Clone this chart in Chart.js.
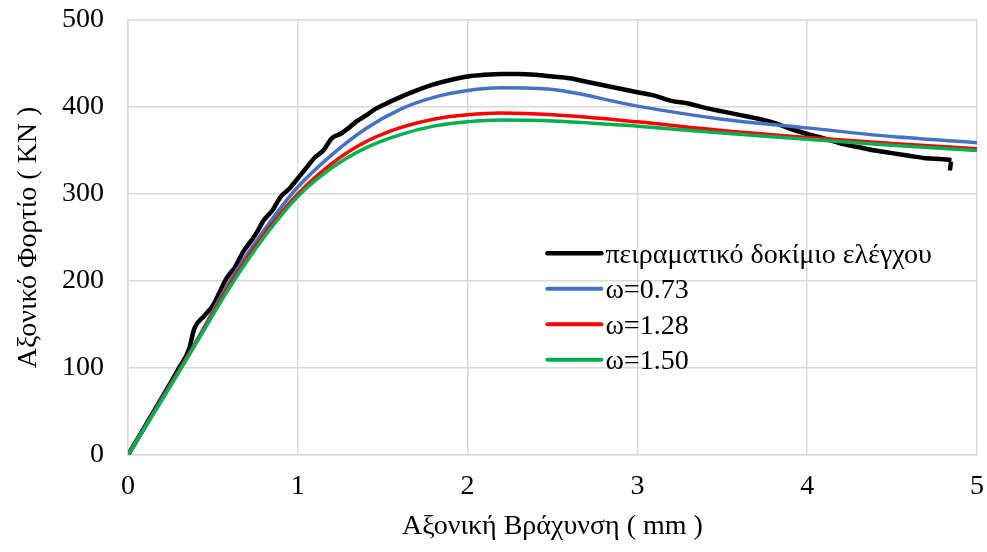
<!DOCTYPE html>
<html>
<head>
<meta charset="utf-8">
<script src="https://cdn.jsdelivr.net/npm/chart.js@4/dist/chart.umd.min.js"></script>
<style>
  html, body { margin: 0; padding: 0; background: #fff; }
  #wrap { width: 987px; height: 552px; }
</style>
</head>
<body>
<div id="wrap"><canvas id="chart"></canvas></div>
<script>
// experimental specimen (black)
const expX = [0, 0.1, 0.2, 0.3, 0.36, 0.39, 0.45, 0.5, 0.58, 0.63, 0.68, 0.75, 0.8, 0.85, 0.9, 0.95,
  1.0, 1.05, 1.1, 1.15, 1.2, 1.25, 1.3, 1.35, 1.4, 1.45, 1.5, 1.6, 1.7, 1.8, 1.9, 2.0, 2.1, 2.2,
  2.3, 2.4, 2.5, 2.6, 2.7, 2.8, 2.9, 3.0, 3.1, 3.2, 3.3, 3.4, 3.5, 3.6, 3.7, 3.8, 3.9, 4.0, 4.1,
  4.2, 4.3, 4.4, 4.5, 4.6, 4.7, 4.8, 4.85, 4.84];
const expY = [0, 33, 66, 100, 122, 145, 160, 172, 203, 216, 234, 253, 270, 281, 297, 306,
  318, 330, 342, 350, 364, 369, 376, 384, 390, 397, 402, 411, 419, 426, 431, 435, 437, 438,
  438, 437, 435, 433, 429, 425, 421, 417, 413, 407, 404, 399, 395, 391, 387, 382, 375, 369, 364,
  358, 354, 350, 347, 344, 341, 340, 339, 327];

const modelX = [0, 0.2, 0.4, 0.6, 0.8, 1.0, 1.2, 1.4, 1.6, 1.8, 2.0, 2.2, 2.5, 3.0, 3.5, 4.0, 4.5, 5.0];
const w073Y = [0, 65, 130, 200, 258, 308, 345, 375, 397, 411, 419, 422, 420, 401, 386, 376, 366, 359];
const w128Y = [0, 64, 129, 196, 253, 300, 335, 360, 376, 386, 391, 393, 391, 383, 373, 365, 358, 352];
const w150Y = [0, 63, 128, 193, 250, 297, 330, 353, 368, 378, 383, 385, 384, 378, 370, 363, 356, 350];

const seriesLabels = ['πειραματικό δοκίμιο ελέγχου', 'ω=0.73', 'ω=1.28', 'ω=1.50'];
const seriesColors = ['#000000', '#4472C4', '#FF0000', '#00B050'];

const FONT = 'Liberation Serif';
const FSIZE = 28;
const pts = (xs, ys) => xs.map((x, i) => ({ x, y: ys[i] }));

// legend drawn inside the plot area
const innerLegend = {
  id: 'innerLegend',
  afterDraw(chart) {
    const { ctx, scales } = chart;
    const left = scales.x.getPixelForValue(2.47);
    const top = scales.y.getPixelForValue(232);
    const rowH = 35.5;
    ctx.save();
    ctx.font = FSIZE + 'px "' + FONT + '"';
    ctx.textBaseline = 'middle';
    ctx.fillStyle = '#000';
    chart.data.datasets.forEach((ds, i) => {
      const y = top + i * rowH;
      ctx.strokeStyle = ds.borderColor;
      ctx.lineWidth = i === 0 ? 4.5 : 4;
      ctx.lineCap = 'round';
      ctx.beginPath();
      ctx.moveTo(left, y);
      ctx.lineTo(left + 54, y);
      ctx.stroke();
      ctx.fillText(ds.label, left + 58, y + 2);
    });
    ctx.restore();
  }
};

new Chart(document.getElementById('chart'), {
  type: 'scatter',
  data: {
    datasets: [
      { label: seriesLabels[0], data: pts(expX, expY), borderColor: seriesColors[0], borderWidth: 4.5, order: 4 },
      { label: seriesLabels[1], data: pts(modelX, w073Y), borderColor: seriesColors[1], borderWidth: 3.5, order: 3 },
      { label: seriesLabels[2], data: pts(modelX, w128Y), borderColor: seriesColors[2], borderWidth: 3.5, order: 2 },
      { label: seriesLabels[3], data: pts(modelX, w150Y), borderColor: seriesColors[3], borderWidth: 3.5, order: 1 },
    ].map(ds => ({ ...ds, showLine: true, pointRadius: 0, cubicInterpolationMode: 'monotone', fill: false }))
  },
  options: {
    responsive: true,
    maintainAspectRatio: false,
    animation: false,
    layout: { padding: { top: 20, right: 10, bottom: 0, left: 0 } },
    plugins: { legend: { display: false }, tooltip: { enabled: false } },
    scales: {
      x: {
        type: 'linear', min: 0, max: 5,
        ticks: { stepSize: 1, padding: 15, color: '#000', font: { family: FONT, size: FSIZE } },
        grid: { color: '#d9d9d9', lineWidth: 1.5, drawTicks: false },
        border: { color: '#d9d9d9', width: 1.5 },
        title: { display: true, text: 'Αξονική Βράχυνση ( mm )', color: '#000', font: { family: FONT, size: FSIZE }, padding: { top: 2, bottom: 9 } },
        afterFit(scale) { scale.height = 97; scale.paddingLeft = 0; scale.paddingRight = 0; }
      },
      y: {
        type: 'linear', min: 0, max: 500,
        ticks: { stepSize: 100, padding: 24, color: '#000', font: { family: FONT, size: FSIZE } },
        grid: { color: '#d9d9d9', lineWidth: 1.5, drawTicks: false },
        border: { color: '#d9d9d9', width: 1.5 },
        title: { display: true, text: 'Αξονικό Φορτίο ( KN )', color: '#000', font: { family: FONT, size: FSIZE }, padding: { top: 12, bottom: 0 } },
        afterFit(scale) { scale.width = 128; scale.paddingTop = 0; scale.paddingBottom = 0; }
      }
    }
  },
  plugins: [innerLegend]
});
</script>
</body>
</html>
